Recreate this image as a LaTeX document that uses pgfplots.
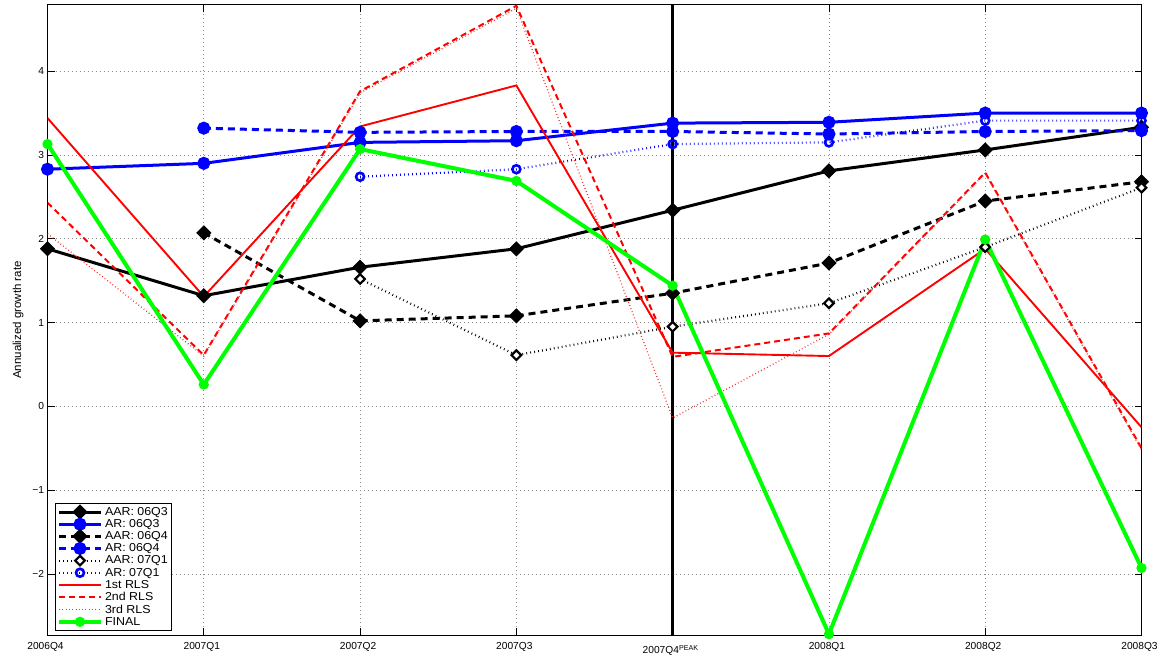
\documentclass[border=0pt]{standalone}
\usepackage{fontspec}
\setmainfont{Liberation Sans}
\usepackage{pgfplots}
\pgfplotsset{compat=1.18}
\begin{document}
\begin{tikzpicture}
\begin{axis}[
 scale only axis, width=1094pt, height=630pt,
 xmin=0, xmax=7, ymin=-2.73, ymax=4.79,
 xtick={0,...,7},
 xticklabels={2006Q4,2007Q1,2007Q2,2007Q3,\raisebox{-4pt}[7.3pt][0pt]{2007Q4\textsuperscript{PEAK}},2008Q1,2008Q2,2008Q3},
 ytick={-2,...,4},
 yticklabels={−2,−1,0,1,2,3,4},
 tick align=inside, major tick length=7pt,
 tick style={black, line width=0.6pt},
 axis line style={line width=1pt},
 grid=major, grid style={black!45, line width=0.6pt, dash pattern=on 0.7pt off 3.3pt},
 ticklabel style={font=\fontsize{10.2}{12}\selectfont},
 xticklabel style={xshift=-2pt, yshift=-4pt},
 ylabel={Annualized growth rate},
 ylabel style={font=\fontsize{11.5}{13}\selectfont, yshift=2pt},
 legend style={at={(0,0)}, anchor=south west, xshift=7pt, yshift=4pt, font=\fontsize{11.5}{12}\selectfont\addfontfeature{FakeStretch=1.08}, draw=black, line width=1pt, inner sep=2pt, row sep=-1.4pt, cells={anchor=west}},
 legend image code/.code={\draw[mark repeat=2,mark phase=2] plot coordinates {(0pt,0pt)(21pt,0pt)(42pt,0pt)};},
]
\addplot[black, line width=2.6pt, forget plot] coordinates {(4,-2.73)(4,4.79)};
% AAR 06Q3
\addplot[black, line width=3pt, mark=square*, mark size=3.9pt, mark options={solid, rotate=45, fill=black}] coordinates {(0,1.88)(1,1.32)(2,1.66)(3,1.88)(4,2.34)(5,2.81)(6,3.06)(7,3.33)};
\addlegendentry{AAR: 06Q3}
% AR 06Q3
\addplot[blue, line width=3pt, mark=*, mark size=5pt, mark options={solid, fill=blue}] coordinates {(0,2.83)(1,2.90)(2,3.15)(3,3.17)(4,3.38)(5,3.39)(6,3.50)(7,3.50)};
\addlegendentry{AR: 06Q3}
% AAR 06Q4
\addplot[black, line width=3pt, dash pattern=on 7pt off 5pt, mark=square*, mark size=3.9pt, mark options={solid, rotate=45, fill=black}] coordinates {(1,2.07)(2,1.02)(3,1.08)(4,1.35)(5,1.71)(6,2.45)(7,2.68)};
\addlegendentry{AAR: 06Q4}
% AR 06Q4
\addplot[blue, line width=3pt, dash pattern=on 7pt off 5pt, mark=*, mark size=5pt, mark options={solid, fill=blue}] coordinates {(1,3.32)(2,3.27)(3,3.28)(4,3.28)(5,3.25)(6,3.28)(7,3.29)};
\addlegendentry{AR: 06Q4}
% AAR 07Q1
\addplot[black, line width=2.2pt, dash pattern=on 0.8pt off 3.2pt, mark=square*, mark size=3.4pt, mark options={solid, rotate=45, fill=white, line width=2.2pt}] coordinates {(2,1.52)(3,0.61)(4,0.95)(5,1.23)(6,1.90)(7,2.61)};
\addlegendentry{AAR: 07Q1}
% AR 07Q1
\addplot[blue, line width=2.2pt, dash pattern=on 0.8pt off 3.2pt, mark=o, mark size=4pt, mark options={solid, line width=2.6pt}] coordinates {(2,2.74)(3,2.83)(4,3.13)(5,3.15)(6,3.41)(7,3.41)};
\addlegendentry{AR: 07Q1}
% 1st RLS
\addplot[red, line width=1.9pt] coordinates {(0,3.44)(1,1.31)(2,3.34)(3,3.83)(4,0.64)(5,0.60)(6,1.88)(7,-0.25)};
\addlegendentry{1st RLS}
% 2nd RLS
\addplot[red, line width=2pt, dash pattern=on 6pt off 4pt] coordinates {(0,2.43)(1,0.61)(2,3.76)(3,4.78)(4,0.59)(5,0.87)(6,2.79)(7,-0.50)};
\addlegendentry{2nd RLS}
% 3rd RLS
\addplot[red!85, line width=1.3pt, dash pattern=on 0.8pt off 2.5pt] coordinates {(0,2.06)(1,0.60)(2,3.74)(3,4.75)(4,-0.14)(5,0.86)(6,2.78)(7,-0.52)};
\addlegendentry{3rd RLS}
% FINAL
\addplot[green, line width=4pt, mark=*, mark size=3pt, mark options={solid, fill=green}] coordinates {(0,3.13)(1,0.26)(2,3.07)(3,2.69)(4,1.44)(5,-2.72)(6,1.99)(7,-1.93)};
\addlegendentry{FINAL}
\end{axis}
\pgfresetboundingbox
\path ([xshift=-47.5pt,yshift=-21pt]current axis.south west) rectangle ([xshift=19.5pt,yshift=5pt]current axis.north east);
\end{tikzpicture}
\end{document}
